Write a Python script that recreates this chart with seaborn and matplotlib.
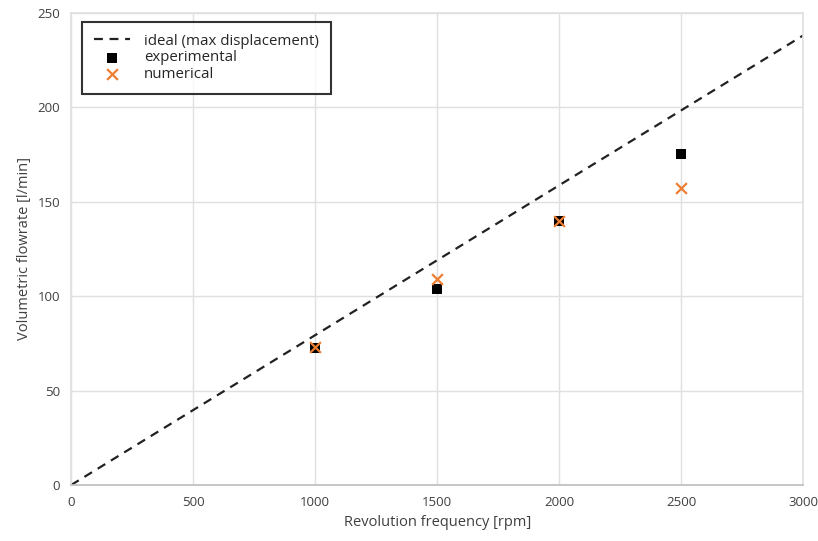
import numpy as np
import pandas as pd
import matplotlib
matplotlib.use('Agg')
import matplotlib.pyplot as plt
import seaborn as sns

# data
ideal_rpm = [0, 3000]
ideal_flow = [0, 238]
rpm = [1000, 1500, 2000, 2500]
experimental = [72.5, 103.8, 139.5, 175.2]
numerical = [72.8, 109.0, 140.0, 157.0]

sns.set_theme(style='white')
plt.rcParams['font.family'] = ['Open Sans', 'DejaVu Sans']

fig = plt.figure(figsize=(8.18, 5.41), dpi=100)
ax = fig.add_axes([0.087, 0.1035, 0.895, 0.873])

ideal_df = pd.DataFrame({'rpm': ideal_rpm, 'flow': ideal_flow})
sns.lineplot(data=ideal_df, x='rpm', y='flow', ax=ax, color='#222222',
             linestyle=(0, (4, 3)), linewidth=1.6, label='ideal (max displacement)')
sns.scatterplot(x=rpm, y=experimental, ax=ax, marker='s', color='black',
                s=50, edgecolor='black', linewidth=0, label='experimental', zorder=3)
sns.scatterplot(x=rpm, y=numerical, ax=ax, marker='x', color='#ED7D31',
                s=60, linewidth=1.6, label='numerical', zorder=4)

ax.set_xlim(0, 3000)
ax.set_ylim(0, 250)
ax.set_xticks(range(0, 3001, 500))
ax.set_yticks(range(0, 251, 50))
ax.grid(True, color='#e0e0e0', linewidth=1)
for s in ax.spines.values():
    s.set_color('#e0e0e0')
ax.spines['bottom'].set_color('#bfbfbf')
ax.tick_params(labelsize=9.5, colors='#404040', length=0, pad=8)
ax.set_xlabel('Revolution frequency [rpm]', fontsize=10.5, color='#404040')
ax.set_ylabel('Volumetric flowrate [l/min]', fontsize=10.5, color='#404040')

leg = ax.legend(loc='upper left', bbox_to_anchor=(0.015, 0.981), borderaxespad=0,
                fontsize=10.8, frameon=True, fancybox=False, borderpad=0.8,
                handlelength=2.4, labelspacing=0.12, handletextpad=0.9)
leg.get_frame().set_edgecolor('black')
leg.get_frame().set_linewidth(1.5)

fig.savefig('out.png', dpi=100)
